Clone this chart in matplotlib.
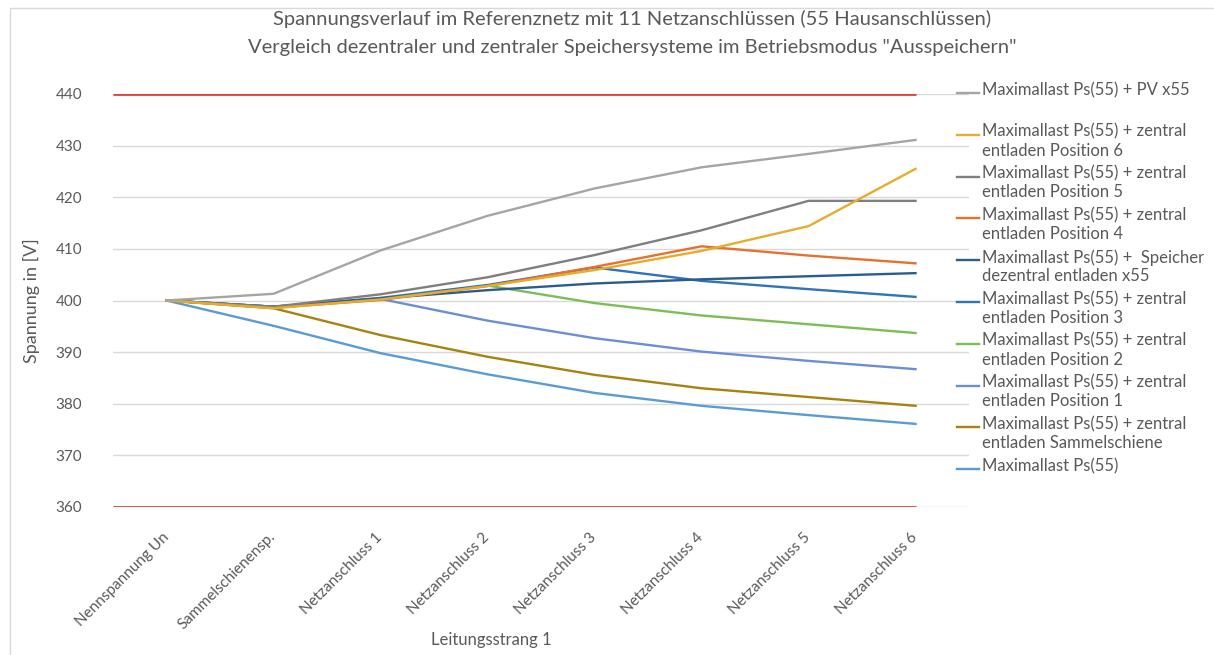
import numpy as np
import matplotlib.pyplot as plt
from matplotlib.lines import Line2D
from matplotlib.patches import Rectangle

plt.rcParams['font.family'] = ['Lato', 'DejaVu Sans']

# Kategorien (Leitungsstrang 1)
kategorien = ["Nennspannung Un", "Sammelschienensp.", "Netzanschluss 1", "Netzanschluss 2",
              "Netzanschluss 3", "Netzanschluss 4", "Netzanschluss 5", "Netzanschluss 6"]

# Spannungen in V
pv_x55       = [400, 401.3, 409.7, 416.4, 421.7, 425.8, 428.4, 431.1]
zentral_pos6 = [400, 398.5, 400.2, 402.8, 405.9, 409.6, 414.4, 425.5]
zentral_pos5 = [400, 398.8, 401.2, 404.5, 408.8, 413.6, 419.3, 419.3]
zentral_pos4 = [400, 398.6, 400.1, 402.8, 406.5, 410.5, 408.7, 407.2]
dezentral    = [400, 398.8, 400.4, 402.0, 403.3, 404.1, 404.7, 405.3]
zentral_pos3 = [400, 398.8, 400.5, 403.0, 406.4, 403.8, 402.2, 400.7]
zentral_pos2 = [400, 398.6, 400.3, 402.9, 399.5, 397.1, 395.4, 393.7]
zentral_pos1 = [400, 398.8, 400.3, 396.1, 392.7, 390.1, 388.3, 386.7]
zentral_ss   = [400, 398.5, 393.3, 389.1, 385.6, 383.0, 381.3, 379.6]
maximallast  = [400, 395.1, 389.8, 385.7, 382.1, 379.6, 377.8, 376.1]

grenzen = [360, 440]

serien = [
    (pv_x55, "#A5A5A5", "Maximallast Ps(55) + PV x55"),
    (zentral_pos6, "#E6AC2A", "Maximallast Ps(55) + zentral\nentladen Position 6"),
    (zentral_pos5, "#7F7F7F", "Maximallast Ps(55) + zentral\nentladen Position 5"),
    (zentral_pos4, "#E8702E", "Maximallast Ps(55) + zentral\nentladen Position 4"),
    (dezentral, "#2B5C8F", "Maximallast Ps(55) +  Speicher\ndezentral entladen x55"),
    (zentral_pos3, "#2F72BD", "Maximallast Ps(55) + zentral\nentladen Position 3"),
    (zentral_pos2, "#7DBD55", "Maximallast Ps(55) + zentral\nentladen Position 2"),
    (zentral_pos1, "#6C8ED3", "Maximallast Ps(55) + zentral\nentladen Position 1"),
    (zentral_ss, "#A7820F", "Maximallast Ps(55) + zentral\nentladen Sammelschiene"),
    (maximallast, "#5B9BD5", "Maximallast Ps(55)"),
]

W, H = 1214, 655
fig = plt.figure(figsize=(W / 100, H / 100), dpi=100)
ax = fig.add_axes([113 / W, 1 - 507 / H, (969 - 113) / W, (507 - 94) / H])

x = np.arange(len(kategorien))
grau = "#595959"

# Gitter
for v in range(360, 441, 10):
    ax.axhline(v, color="#D9D9D9", lw=1, zorder=0)

# Grenzwerte
for g in grenzen:
    ax.hlines(g, -0.5, len(kategorien) - 1, color="#E5403A", lw=2, zorder=2)

# Reihen in umgekehrter Reihenfolge zeichnen
for werte, farbe, name in serien[::-1]:
    ax.plot(x, werte, color=farbe, lw=1.7, zorder=3)

ax.set_xlim(-0.5, len(kategorien) - 0.5)
ax.set_ylim(360, 440)
ax.set_yticks(range(360, 441, 10))
ax.set_xticks(x)
ax.set_xticklabels(kategorien, rotation=45, ha="right", va="center", rotation_mode="anchor")
ax.tick_params(length=0, labelsize=11, colors=grau)
ax.tick_params(axis="y", pad=22)
ax.tick_params(axis="x", pad=20)
for s in ax.spines.values():
    s.set_visible(False)

ax.set_ylabel("Spannung in [V]", fontsize=13, color=grau)
ax.yaxis.set_label_coords(-(113 - 40) / (969 - 113), 0.5)
fig.text(491 / W, 1 - 640 / H, "Leitungsstrang 1", fontsize=12, color=grau, ha="center", va="center")

# Titel
fig.text(632 / W, 1 - 19 / H, "Spannungsverlauf im Referenznetz mit 11 Netzanschlüssen (55 Hausanschlüssen)",
         fontsize=14.5, color=grau, ha="center", va="center")
fig.text(632 / W, 1 - 47 / H, "Vergleich dezentraler und zentraler Speichersysteme im Betriebsmodus \"Ausspeichern\"",
         fontsize=14.5, color=grau, ha="center", va="center")

# Legende
for i, (werte, farbe, name) in enumerate(serien):
    y = 93 + 41.8 * i
    fig.add_artist(Line2D([957 / W, 979 / W], [1 - y / H, 1 - y / H], color=farbe, lw=1.7))
    fig.text(982 / W, 1 - (y - 11) / H, name, fontsize=12, color=grau, ha="left", va="top",
             linespacing=1.2)

# Rahmen
fig.add_artist(Rectangle((10 / W, -0.05), 1.1, 1 - 8 / H + 0.05, transform=fig.transFigure,
                         fill=False, edgecolor="#D9D9D9", lw=1))

fig.savefig("out.png", dpi=100)
